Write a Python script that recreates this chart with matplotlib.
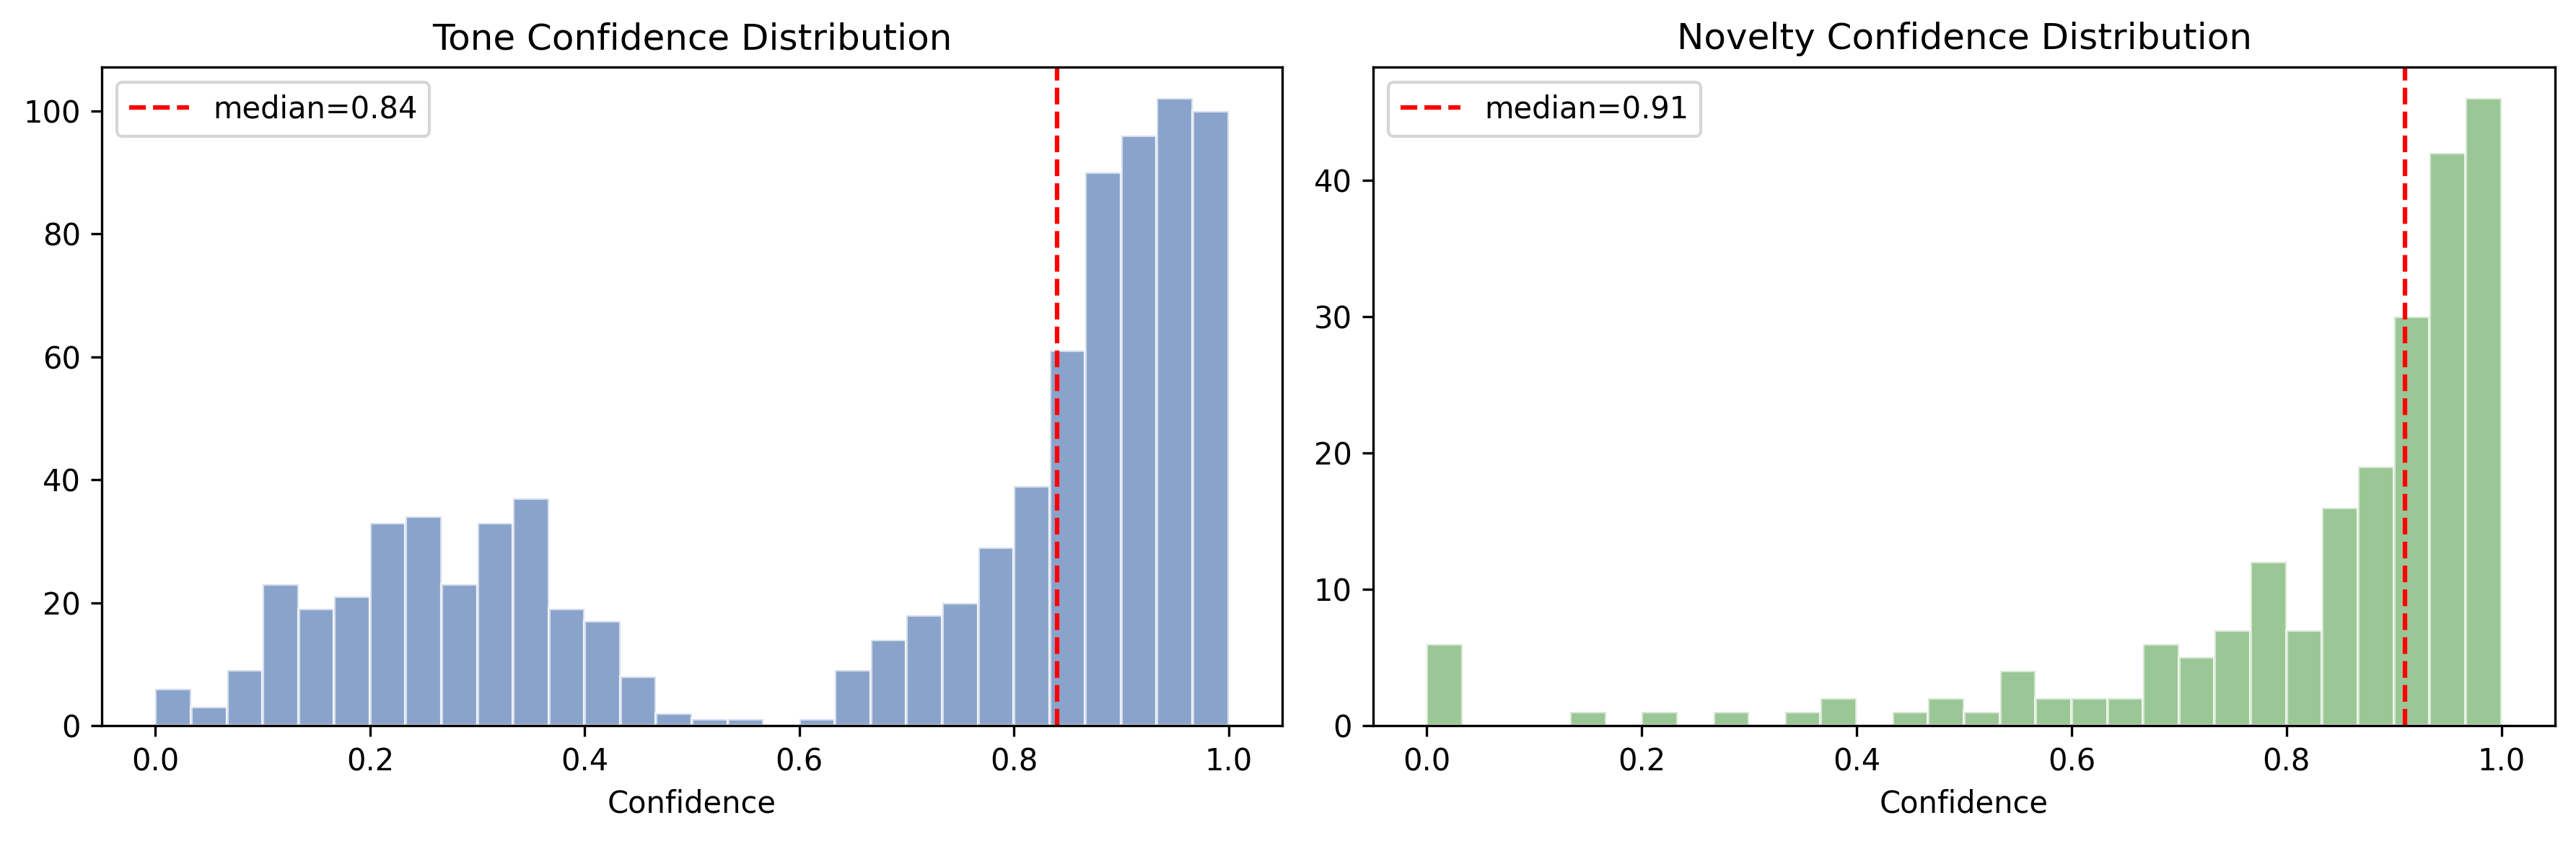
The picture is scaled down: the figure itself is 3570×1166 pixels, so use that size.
import numpy as np
import matplotlib
matplotlib.use("Agg")
import matplotlib.pyplot as plt

n_bins = 30
bin_lo, bin_hi = 0.0, 1.0

tone_counts = [6, 3, 9, 23, 19, 21, 33, 34, 23, 33, 37, 19, 17, 8, 2,
               1, 1, 0, 1, 9, 14, 18, 20, 29, 39, 61, 90, 96, 102, 100]
tone_median = 0.84

novelty_counts = [6, 0, 0, 0, 1, 0, 1, 0, 1, 0, 1, 2, 0, 1, 2,
                  1, 4, 2, 2, 2, 6, 5, 7, 12, 7, 16, 19, 30, 42, 46]
novelty_median = 0.91

titles = ["Tone Confidence Distribution", "Novelty Confidence Distribution"]
xlabel = "Confidence"

edges = np.linspace(bin_lo, bin_hi, n_bins + 1)
centers = (edges[:-1] + edges[1:]) / 2

fig = plt.figure(figsize=(11.9, 3.8867), dpi=300)
ax1 = fig.add_axes([141/3570, 1-1006/1166, (1777-141)/3570, (1006-93)/1166])
ax2 = fig.add_axes([1903/3570, 1-1006/1166, (3541-1903)/3570, (1006-93)/1166])

specs = [
    (ax1, tone_counts, tone_median, "#4C72B0", 0.65),
    (ax2, novelty_counts, novelty_median, "#59A14F", 0.6),
]
for ax, counts, med, col, a, title in [(s[0], s[1], s[2], s[3], s[4], t) for s, t in zip(specs, titles)]:
    ax.hist(centers, bins=edges, weights=counts, color=col, alpha=a, edgecolor="white")
    ax.axvline(med, color="red", linestyle="--", label=f"median={med:.2f}")
    ax.set_title(title)
    ax.set_xlabel(xlabel)
    ax.legend(loc="upper left")

fig.savefig("out.png", dpi=300)
